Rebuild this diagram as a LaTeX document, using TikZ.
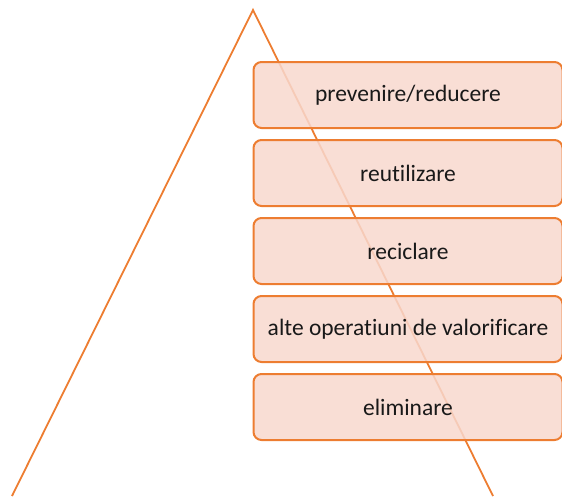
\documentclass[tikz,border=0pt]{standalone}
\usepackage{fontspec}
\setmainfont{Carlito}[Ligatures=NoCommon]
\usepackage{tikz}
\usetikzlibrary{positioning}
\definecolor{wasteorange}{HTML}{ED7D31}
\definecolor{wastefill}{HTML}{F8D8CE}
\tikzstyle{level} = [draw=wasteorange, line width=2pt, fill=wastefill, fill opacity=0.85, text opacity=1, rounded corners=8pt, minimum width=309pt, minimum height=66pt, inner sep=0pt, font=\fontsize{23.5}{26}\selectfont, text=black!90]

\begin{document}
\begin{tikzpicture}[x=1pt,y=-1pt]
\useasboundingbox (0,0) rectangle (562,496);
% piramida
\coordinate (varf) at (253,10);
\coordinate (stanga) at (12,496);
\coordinate (dreapta) at (493,496);
\draw[wasteorange, line width=1.8pt] (stanga) -- (varf) -- (dreapta);
% nivelurile ierarhiei
\node[level] (prev) at (408,95) {prevenire/reducere};
\node[level, below=10pt of prev] (reut) {reutilizare};
\node[level, below=10pt of reut] (recic) {reciclare};
\node[level, below=10pt of recic] (valor) {alte operatiuni de valorificare};
\node[level, below=10pt of valor] (elim) {eliminare};
\end{tikzpicture}
\end{document}
